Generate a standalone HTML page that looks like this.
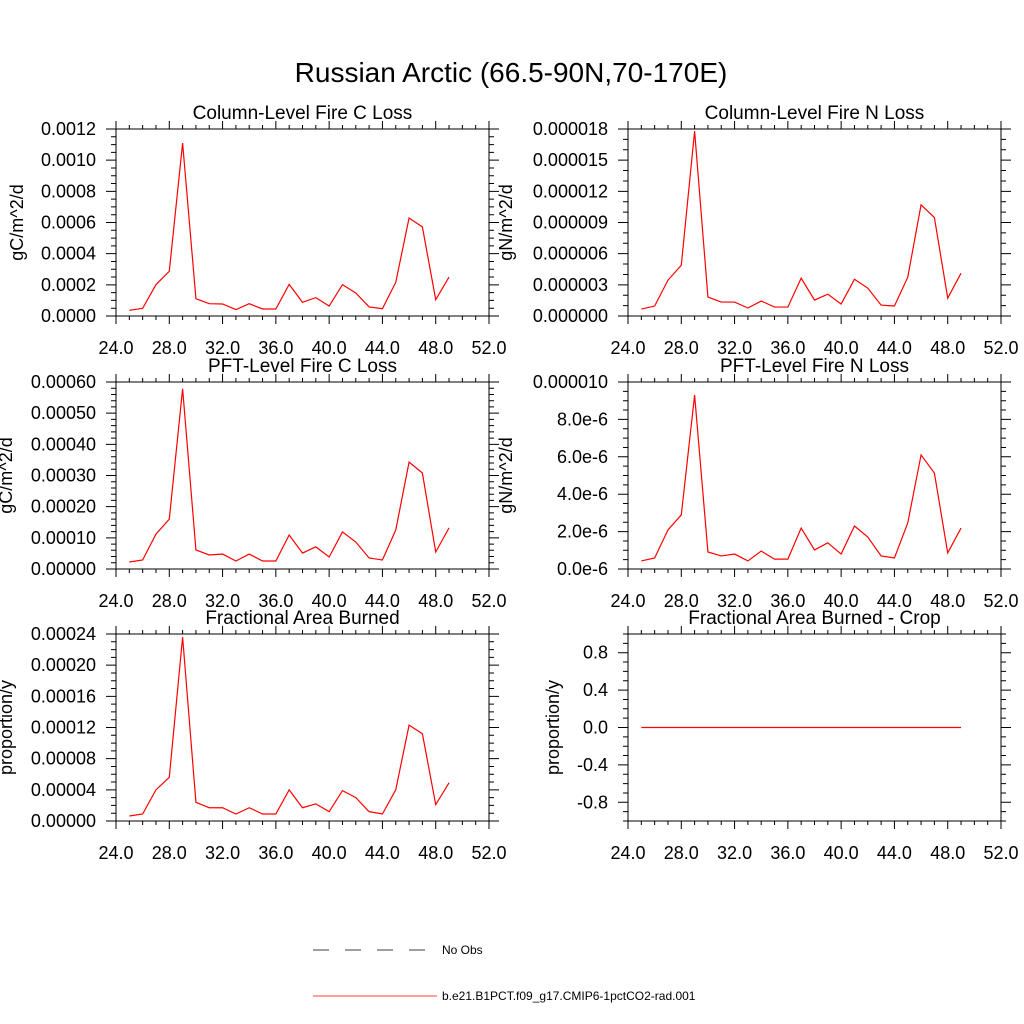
<!DOCTYPE html>
<html><head><meta charset="utf-8"><style>
body{margin:0;background:#fff}
svg{display:block;font-family:"Liberation Sans",sans-serif}
</style></head><body>
<svg id="chart" width="1024" height="1024" viewBox="0 0 1024 1024">
<text x="511" y="82" font-size="28" text-anchor="middle">Russian Arctic (66.5-90N,70-170E)</text>
<g>
<line x1="313" y1="950" x2="437" y2="950" stroke="#000" stroke-width="0.8" stroke-dasharray="16,16"/>
<text x="442" y="954" font-size="12">No Obs</text>
<line x1="313" y1="996" x2="437" y2="996" stroke="#f00" stroke-width="0.8"/>
<text x="442" y="1000" font-size="12">b.e21.B1PCT.f09_g17.CMIP6-1pctCO2-rad.001</text>
</g>
</svg>
<script>
const years=[25,26,27,28,29,30,31,32,33,34,35,36,37,38,39,40,41,42,43,44,45,46,47,48,49];
const colC=[0.0000364,0.000049,0.000201,0.000287,0.00111,0.000111,0.000079,0.000077,0.000041,0.000079,0.000045,0.000045,0.000203,0.000088,0.000118,0.000064,0.000201,0.000148,0.000058,0.000047,0.000216,0.000629,0.000571,0.000105,0.00025];
const colN=[0.67e-6,0.96e-6,3.45e-6,4.88e-6,17.8e-6,1.82e-6,1.34e-6,1.34e-6,0.77e-6,1.44e-6,0.86e-6,0.86e-6,3.64e-6,1.53e-6,2.1e-6,1.15e-6,3.54e-6,2.68e-6,1.05e-6,0.96e-6,3.73e-6,10.7e-6,9.48e-6,1.72e-6,4.12e-6];
const pftC=[0.0000225,0.0000289,0.000112,0.00016,0.000578,0.000061,0.000045,0.000048,0.0000257,0.000048,0.0000257,0.0000257,0.000109,0.000051,0.000071,0.0000385,0.000119,0.0000866,0.0000353,0.0000289,0.000125,0.000343,0.000308,0.0000545,0.000132];
const pftN=[0.43e-6,0.59e-6,2.09e-6,2.89e-6,9.3e-6,0.91e-6,0.7e-6,0.8e-6,0.43e-6,0.96e-6,0.53e-6,0.53e-6,2.19e-6,1.02e-6,1.4e-6,0.8e-6,2.3e-6,1.71e-6,0.7e-6,0.59e-6,2.46e-6,6.1e-6,5.13e-6,0.86e-6,2.19e-6];
const fracB=[0.064e-4,0.09e-4,0.4e-4,0.56e-4,2.36e-4,0.24e-4,0.17e-4,0.17e-4,0.09e-4,0.17e-4,0.09e-4,0.09e-4,0.4e-4,0.17e-4,0.22e-4,0.12e-4,0.39e-4,0.3e-4,0.12e-4,0.09e-4,0.4e-4,1.23e-4,1.12e-4,0.21e-4,0.49e-4];
const fracCrop=[0,0,0,0,0,0,0,0,0,0,0,0,0,0,0,0,0,0,0,0,0,0,0,0,0];
const xTicks=["24.0","28.0","32.0","36.0","40.0","44.0","48.0","52.0"];
const ticksColC=["0.0000","0.0002","0.0004","0.0006","0.0008","0.0010","0.0012"];
const ticksColN=["0.000000","0.000003","0.000006","0.000009","0.000012","0.000015","0.000018"];
const ticksPftC=["0.00000","0.00010","0.00020","0.00030","0.00040","0.00050","0.00060"];
const ticksPftN=["0.0e-6","2.0e-6","4.0e-6","6.0e-6","8.0e-6","0.000010"];
const ticksFrac=["0.00000","0.00004","0.00008","0.00012","0.00016","0.00020","0.00024"];
const ticksCrop=["-0.8","-0.4","0.0","0.4","0.8"];

const svg=document.getElementById('chart');
const NS='http://www.w3.org/2000/svg';
function mk(tag,attrs,parent){const e=document.createElementNS(NS,tag);for(const k in attrs)e.setAttribute(k,attrs[k]);parent.appendChild(e);return e;}

const panels=[
 {name:'column-fire-c-loss',title:'Column-Level Fire C Loss',yl:'gC/m^2/d',x0:116,y0:129,data:colC,ymin:0,ymax:0.0012,ystep:0.0002,minor:4,labels:ticksColC,ylx:17},
 {name:'column-fire-n-loss',title:'Column-Level Fire N Loss',yl:'gN/m^2/d',x0:628,y0:129,data:colN,ymin:0,ymax:18e-6,ystep:3e-6,minor:3,labels:ticksColN,ylx:506},
 {name:'pft-fire-c-loss',title:'PFT-Level Fire C Loss',yl:'gC/m^2/d',x0:116,y0:382,data:pftC,ymin:0,ymax:0.0006,ystep:0.0001,minor:5,labels:ticksPftC,ylx:6},
 {name:'pft-fire-n-loss',title:'PFT-Level Fire N Loss',yl:'gN/m^2/d',x0:628,y0:382,data:pftN,ymin:0,ymax:1e-5,ystep:2e-6,minor:4,labels:ticksPftN,ylx:506},
 {name:'fractional-area-burned',title:'Fractional Area Burned',yl:'proportion/y',x0:116,y0:634,data:fracB,ymin:0,ymax:0.00024,ystep:0.00004,minor:4,labels:ticksFrac,ylx:6},
 {name:'fractional-area-burned-crop',title:'Fractional Area Burned - Crop',yl:'proportion/y',x0:628,y0:634,data:fracCrop,ymin:-1,ymax:1,ystep:0.4,minor:4,labels:ticksCrop,ylx:553,yfirst:-0.8}
];
const W=373,H=187,XMIN=24,XMAX=52;
panels.forEach(p=>{
 const g=mk('g',{},svg);
 
 
 const sx=v=>p.x0+(v-XMIN)/(XMAX-XMIN)*W;
 const sy=v=>p.y0+H-(v-p.ymin)/(p.ymax-p.ymin)*H;
 const t=mk('text',{x:p.x0+W/2,y:p.y0-10,'font-size':'19','text-anchor':'middle'},g);
 t.textContent=p.title;
 
 
 const yt=mk('text',{x:p.ylx,y:p.y0+H/2,'font-size':'18','text-anchor':'middle',transform:`rotate(-90 ${p.ylx} ${p.y0+H/2})`,dy:'6'},g);
 yt.textContent=p.yl;
 
 
 let d='';
 for(let x=XMIN;x<=XMAX;x++){const X=sx(x);const L=(x%4===0)?8:4;d+=`M${X},${p.y0+H}v${L}M${X},${p.y0}v${-L}`;}
 const first=p.yfirst!==undefined?p.yfirst:p.ymin;
 const mstep=p.ystep/p.minor;
 for(let k=-20;k<=200;k++){const v=first+k*mstep;if(v<p.ymin-1e-12||v>p.ymax+1e-12)continue;const Y=sy(v);const L=(k%p.minor===0)?10:5;d+=`M${p.x0},${Y}h${-L}M${p.x0+W},${Y}h${L}`;}
 const tk=mk('path',{d:d,stroke:'#000','stroke-width':'1',fill:'none'},g);
 
 
 const box=mk('rect',{x:p.x0,y:p.y0,width:W,height:H,fill:'none',stroke:'#000','stroke-width':'1'},g);
 
 
 xTicks.forEach((lab,i)=>{const e=mk('text',{x:sx(parseFloat(lab)),y:p.y0+H+38,'font-size':'18','text-anchor':'middle'},g);e.textContent=lab;
  
  });
 p.labels.forEach((lab,i)=>{const v=first+i*p.ystep;const e=mk('text',{x:p.x0-20,y:sy(v)+6,'font-size':'18','text-anchor':'end'},g);e.textContent=lab;
  
  });
 const pts=years.map((yr,i)=>sx(yr)+','+sy(p.data[i])).join(' ');
 const ln=mk('polyline',{points:pts,fill:'none',stroke:'#f00','stroke-width':'1.2'},g);
 
 
});
</script>
</body></html>
